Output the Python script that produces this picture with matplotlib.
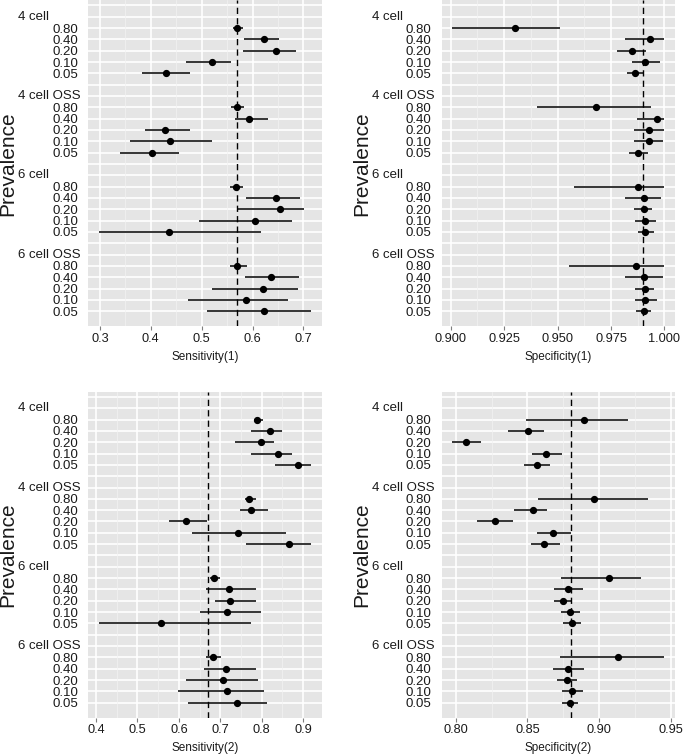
import matplotlib
matplotlib.use("Agg")
import matplotlib.pyplot as plt
import numpy as np

plt.rcParams['font.family'] = ['Liberation Sans', 'DejaVu Sans']

groups = ["4 cell", "4 cell OSS", "6 cell", "6 cell OSS"]
prevalence = ["0.80", "0.40", "0.20", "0.10", "0.05"]

# Sensitivity(1): estimate, lower, upper per group (rows in prevalence order)
sens1_est = [[0.570, 0.623, 0.647, 0.520, 0.429],
             [0.570, 0.592, 0.427, 0.438, 0.402],
             [0.567, 0.647, 0.654, 0.605, 0.436],
             [0.570, 0.637, 0.620, 0.587, 0.622]]
sens1_lo = [[0.562, 0.583, 0.582, 0.469, 0.382],
            [0.558, 0.566, 0.389, 0.359, 0.339],
            [0.556, 0.587, 0.570, 0.494, 0.298],
            [0.555, 0.585, 0.521, 0.474, 0.510]]
sens1_hi = [[0.581, 0.652, 0.686, 0.557, 0.478],
            [0.583, 0.631, 0.478, 0.521, 0.456],
            [0.582, 0.694, 0.702, 0.677, 0.617],
            [0.589, 0.692, 0.689, 0.669, 0.715]]

spec1_est = [[0.9303, 0.9930, 0.9847, 0.9911, 0.9864],
             [0.9681, 0.9966, 0.9928, 0.9927, 0.9878],
             [0.9877, 0.9902, 0.9902, 0.9911, 0.9911],
             [0.9867, 0.9905, 0.9908, 0.9911, 0.9902]]
spec1_lo = [[0.9008, 0.9817, 0.9778, 0.9850, 0.9825],
            [0.9406, 0.9872, 0.9856, 0.9858, 0.9834],
            [0.9578, 0.9817, 0.9858, 0.9864, 0.9877],
            [0.9555, 0.9817, 0.9862, 0.9862, 0.9869]]
spec1_hi = [[0.9511, 0.9998, 0.9913, 0.9980, 0.9906],
            [0.9936, 1.0000, 0.9998, 0.9995, 0.9925],
            [0.9998, 0.9984, 0.9941, 0.9961, 0.9953],
            [0.9998, 0.9992, 0.9953, 0.9964, 0.9936]]

sens2_est = [[0.789, 0.819, 0.797, 0.840, 0.888],
             [0.769, 0.773, 0.616, 0.743, 0.865],
             [0.685, 0.722, 0.723, 0.716, 0.558],
             [0.682, 0.713, 0.706, 0.715, 0.740]]
sens2_lo = [[0.781, 0.775, 0.735, 0.773, 0.831],
            [0.760, 0.748, 0.577, 0.631, 0.762],
            [0.674, 0.665, 0.686, 0.652, 0.407],
            [0.665, 0.661, 0.617, 0.599, 0.623]]
sens2_hi = [[0.802, 0.848, 0.830, 0.873, 0.919],
            [0.785, 0.814, 0.668, 0.859, 0.919],
            [0.700, 0.785, 0.785, 0.799, 0.774],
            [0.702, 0.785, 0.790, 0.805, 0.813]]

spec2_est = [[0.8895, 0.8505, 0.8074, 0.8626, 0.8567],
             [0.8965, 0.8535, 0.8277, 0.8677, 0.8616],
             [0.9065, 0.8779, 0.8744, 0.8798, 0.8807],
             [0.9133, 0.8784, 0.8774, 0.8807, 0.8793]]
spec2_lo = [[0.8493, 0.8367, 0.7977, 0.8530, 0.8479],
            [0.8574, 0.8409, 0.8151, 0.8565, 0.8521],
            [0.8735, 0.8684, 0.8684, 0.8735, 0.8749],
            [0.8726, 0.8679, 0.8707, 0.8742, 0.8742]]
spec2_hi = [[0.9200, 0.8616, 0.8174, 0.8737, 0.8660],
            [0.9340, 0.8637, 0.8402, 0.8802, 0.8723],
            [0.9293, 0.8884, 0.8807, 0.8865, 0.8872],
            [0.9453, 0.8895, 0.8847, 0.8884, 0.8849]]

ref_values = [0.570, 0.990, 0.670, 0.880]
x_titles = ["Sensitivity(1)", "Specificity(1)", "Sensitivity(2)", "Specificity(2)"]
x_ticks = [[0.3, 0.4, 0.5, 0.6, 0.7],
           [0.900, 0.925, 0.950, 0.975, 1.000],
           [0.4, 0.5, 0.6, 0.7, 0.8, 0.9],
           [0.80, 0.85, 0.90, 0.95]]
x_ticklabels = [["0.3", "0.4", "0.5", "0.6", "0.7"],
                ["0.900", "0.925", "0.950", "0.975", "1.000"],
                ["0.4", "0.5", "0.6", "0.7", "0.8", "0.9"],
                ["0.80", "0.85", "0.90", "0.95"]]

panels = [(sens1_est, sens1_lo, sens1_hi),
          (spec1_est, spec1_lo, spec1_hi),
          (sens2_est, sens2_lo, sens2_hi),
          (spec2_est, spec2_lo, spec2_hi)]

W, H = 685, 754
fig = plt.figure(figsize=(W / 100, H / 100), dpi=100)

# row positions: header row then 5 prevalence rows, blank row between groups
row_y = []
header_y = []
ypos = 27
for g in range(len(groups)):
    header_y.append(ypos)
    ypos -= 1
    rows = []
    for p in range(len(prevalence)):
        rows.append(ypos)
        ypos -= 1
    row_y.append(rows)
    ypos -= 1

axes_px = [(88.3, 0.3), (441.7, 0.3), (88.3, 391.8), (441.7, 391.8)]
pw, ph = 233.4, 326.0

ytick_pos = []
ytick_lab = []
for g in range(len(groups)):
    for p in range(len(prevalence)):
        ytick_pos.append(row_y[g][p])
        ytick_lab.append(prevalence[p])

for k, (est, lo, hi) in enumerate(panels):
    lx, ty = axes_px[k]
    ax = fig.add_axes([lx / W, 1 - (ty + ph) / H, pw / W, ph / H])
    ax.set_facecolor('#E5E5E5')
    for s in ax.spines.values():
        s.set_visible(False)

    # grid
    xt = x_ticks[k]
    step = xt[1] - xt[0]
    minor = [t + step / 2 for t in xt[:-1]]
    for t in range(1, 29):
        ax.axhline(t, color='white', lw=1.2, zorder=1)
    for t in xt:
        ax.axvline(t, color='white', lw=1.2, zorder=1)
    for t in minor:
        ax.axvline(t, color='#F2F2F2', lw=0.5, zorder=1)

    ax.axvline(ref_values[k], color='black', lw=1.0, ls=(0, (4.5, 3)), zorder=2)

    for g in range(len(groups)):
        e = np.array(est[g]); l = np.array(lo[g]); h = np.array(hi[g])
        y = np.array(row_y[g])
        ax.hlines(y, l, h, color='black', lw=1.1, zorder=3)
        ax.plot(e, y, 'o', color='black', ms=4.2, zorder=4)

    allv = np.concatenate([np.ravel(lo), np.ravel(hi)])
    rng = allv.max() - allv.min()
    ax.set_xlim(allv.min() - 0.05 * rng, allv.max() + 0.05 * rng)
    ax.set_ylim(-0.33, 28.45)

    ax.set_xticks(xt)
    ax.set_xticklabels(x_ticklabels[k])
    ax.set_yticks(ytick_pos)
    ax.set_yticklabels(ytick_lab)
    ax.tick_params(axis='x', length=3, width=0.8, color='#7F7F7F', pad=1.6,
                   labelsize=9.2, labelcolor='#1a1a1a')
    ax.tick_params(axis='y', length=0, pad=7.2, labelsize=9.5, labelcolor='#1a1a1a')
    ax.set_xlabel(x_titles[k], fontsize=8.5, labelpad=4.5, color='#1a1a1a')

    for g in range(len(groups)):
        ax.annotate(groups[g], xy=(0, header_y[g]), xycoords=ax.get_yaxis_transform(),
                    xytext=(-70, 0), textcoords='offset pixels', ha='left', va='center',
                    fontsize=9.5, color='#1a1a1a', annotation_clip=False)

    fig.text(8 / W + (lx - 88.3) / W, 1 - (ty + ph / 2) / H, "Prevalence",
             rotation=90, ha='center', va='center', fontsize=15, color='#1a1a1a')

fig.savefig("out.png", dpi=100)
